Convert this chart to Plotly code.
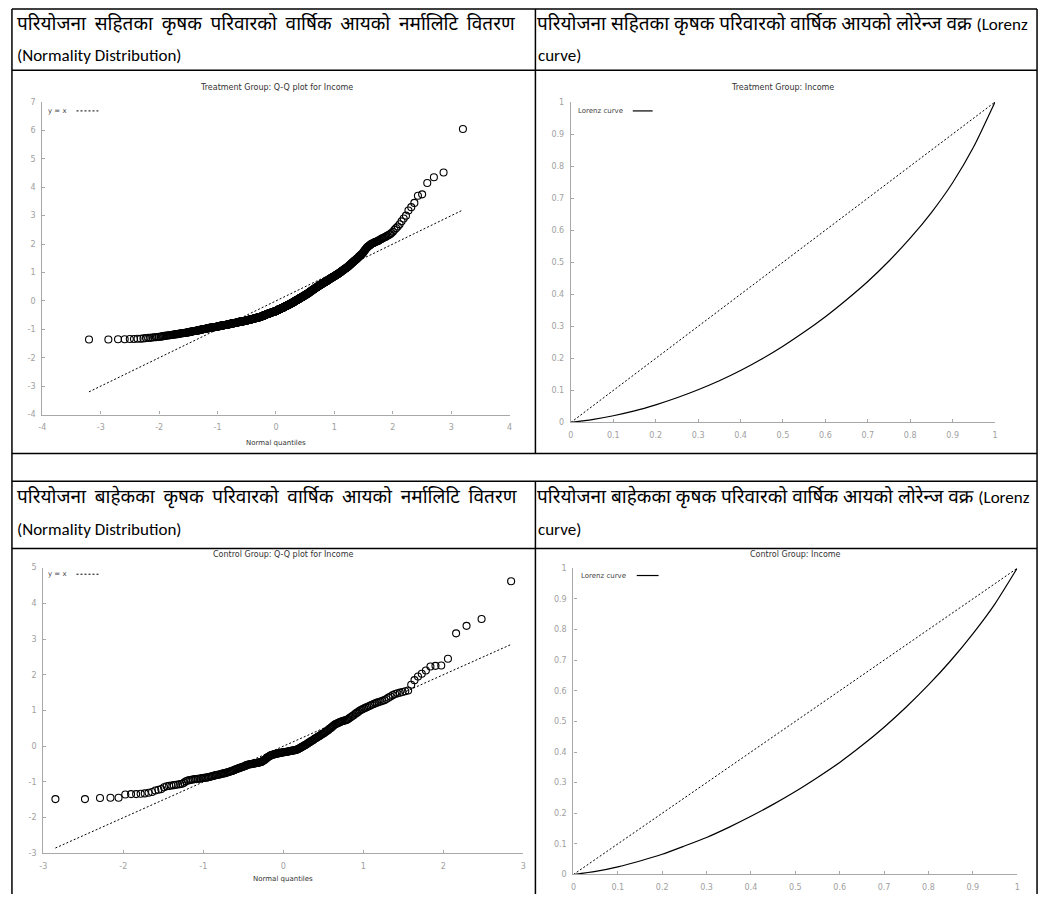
import plotly.graph_objects as go
from statistics import NormalDist

W, H = 1046, 899

# ---------------- data ----------------
# sorted standardized annual income, treatment group (n = 730)
treat_income_z = [
    -1.36, -1.36, -1.35, -1.35, -1.34, -1.34, -1.33, -1.33, -1.32, -1.31,
    -1.30, -1.30, -1.29, -1.28, -1.28, -1.27, -1.26, -1.26, -1.25, -1.24,
    -1.23, -1.23, -1.22, -1.22, -1.21, -1.21, -1.20, -1.19, -1.19, -1.18,
    -1.18, -1.17, -1.17, -1.17, -1.16, -1.16, -1.15, -1.15, -1.14, -1.14,
    -1.14, -1.13, -1.13, -1.12, -1.12, -1.12, -1.11, -1.11, -1.10, -1.10,
    -1.10, -1.09, -1.09, -1.08, -1.08, -1.08, -1.07, -1.07, -1.06, -1.06,
    -1.06, -1.05, -1.05, -1.05, -1.04, -1.04, -1.04, -1.03, -1.03, -1.03,
    -1.02, -1.02, -1.02, -1.01, -1.01, -1.01, -1.00, -1.00, -0.99, -0.99,
    -0.99, -0.99, -0.98, -0.98, -0.98, -0.97, -0.97, -0.97, -0.96, -0.96,
    -0.96, -0.96, -0.95, -0.95, -0.95, -0.95, -0.95, -0.94, -0.94, -0.94,
    -0.94, -0.94, -0.93, -0.93, -0.93, -0.93, -0.93, -0.92, -0.92, -0.92,
    -0.92, -0.91, -0.91, -0.91, -0.90, -0.90, -0.90, -0.90, -0.89, -0.89,
    -0.89, -0.89, -0.89, -0.88, -0.88, -0.88, -0.88, -0.87, -0.87, -0.87,
    -0.87, -0.87, -0.86, -0.86, -0.86, -0.86, -0.86, -0.85, -0.85, -0.85,
    -0.85, -0.85, -0.84, -0.84, -0.84, -0.84, -0.84, -0.83, -0.83, -0.83,
    -0.83, -0.83, -0.82, -0.82, -0.82, -0.82, -0.82, -0.81, -0.81, -0.81,
    -0.81, -0.81, -0.80, -0.80, -0.80, -0.80, -0.80, -0.79, -0.79, -0.79,
    -0.79, -0.79, -0.78, -0.78, -0.78, -0.78, -0.78, -0.77, -0.77, -0.77,
    -0.77, -0.77, -0.76, -0.76, -0.76, -0.76, -0.76, -0.75, -0.75, -0.75,
    -0.75, -0.75, -0.74, -0.74, -0.74, -0.74, -0.74, -0.73, -0.73, -0.73,
    -0.73, -0.73, -0.73, -0.73, -0.73, -0.72, -0.72, -0.72, -0.72, -0.72,
    -0.72, -0.72, -0.71, -0.71, -0.71, -0.71, -0.71, -0.70, -0.70, -0.70,
    -0.70, -0.70, -0.69, -0.69, -0.69, -0.69, -0.69, -0.68, -0.68, -0.68,
    -0.68, -0.68, -0.67, -0.67, -0.67, -0.67, -0.67, -0.66, -0.66, -0.66,
    -0.66, -0.66, -0.65, -0.65, -0.65, -0.65, -0.65, -0.64, -0.64, -0.64,
    -0.64, -0.64, -0.63, -0.63, -0.63, -0.63, -0.63, -0.62, -0.62, -0.62,
    -0.62, -0.62, -0.61, -0.61, -0.61, -0.61, -0.61, -0.60, -0.60, -0.60,
    -0.60, -0.60, -0.59, -0.59, -0.59, -0.59, -0.59, -0.58, -0.58, -0.58,
    -0.58, -0.58, -0.57, -0.57, -0.57, -0.57, -0.57, -0.56, -0.56, -0.56,
    -0.56, -0.55, -0.55, -0.55, -0.55, -0.54, -0.54, -0.54, -0.53, -0.53,
    -0.53, -0.52, -0.52, -0.52, -0.52, -0.51, -0.51, -0.51, -0.50, -0.50,
    -0.50, -0.49, -0.49, -0.49, -0.49, -0.48, -0.48, -0.48, -0.47, -0.47,
    -0.47, -0.46, -0.46, -0.46, -0.46, -0.45, -0.45, -0.45, -0.44, -0.44,
    -0.44, -0.44, -0.44, -0.43, -0.43, -0.43, -0.43, -0.42, -0.42, -0.42,
    -0.42, -0.41, -0.41, -0.41, -0.41, -0.40, -0.40, -0.40, -0.39, -0.39,
    -0.39, -0.39, -0.39, -0.38, -0.38, -0.38, -0.38, -0.37, -0.37, -0.37,
    -0.37, -0.36, -0.36, -0.36, -0.36, -0.35, -0.35, -0.35, -0.34, -0.34,
    -0.34, -0.33, -0.33, -0.33, -0.32, -0.32, -0.31, -0.31, -0.30, -0.30,
    -0.30, -0.30, -0.29, -0.29, -0.29, -0.28, -0.28, -0.28, -0.27, -0.27,
    -0.27, -0.27, -0.26, -0.26, -0.26, -0.25, -0.25, -0.25, -0.24, -0.24,
    -0.24, -0.23, -0.23, -0.22, -0.22, -0.22, -0.21, -0.21, -0.20, -0.20,
    -0.20, -0.19, -0.19, -0.19, -0.18, -0.18, -0.18, -0.17, -0.17, -0.16,
    -0.16, -0.16, -0.15, -0.15, -0.15, -0.14, -0.14, -0.14, -0.13, -0.13,
    -0.13, -0.12, -0.12, -0.11, -0.11, -0.11, -0.10, -0.10, -0.09, -0.09,
    -0.09, -0.08, -0.08, -0.07, -0.07, -0.07, -0.06, -0.06, -0.05, -0.05,
    -0.05, -0.04, -0.04, -0.03, -0.03, -0.02, -0.02, -0.01, -0.01, 0.00,
    0.00, 0.01, 0.01, 0.02, 0.02, 0.02, 0.03, 0.03, 0.04, 0.04,
    0.04, 0.05, 0.05, 0.06, 0.06, 0.07, 0.07, 0.08, 0.08, 0.09,
    0.09, 0.09, 0.10, 0.10, 0.11, 0.11, 0.12, 0.12, 0.13, 0.13,
    0.13, 0.14, 0.14, 0.15, 0.15, 0.16, 0.16, 0.17, 0.17, 0.18,
    0.18, 0.19, 0.19, 0.20, 0.20, 0.21, 0.21, 0.22, 0.22, 0.23,
    0.23, 0.24, 0.24, 0.25, 0.25, 0.26, 0.26, 0.27, 0.27, 0.28,
    0.29, 0.29, 0.30, 0.30, 0.31, 0.32, 0.32, 0.33, 0.33, 0.34,
    0.35, 0.35, 0.36, 0.36, 0.37, 0.38, 0.38, 0.39, 0.39, 0.40,
    0.41, 0.41, 0.42, 0.42, 0.43, 0.44, 0.44, 0.45, 0.45, 0.46,
    0.47, 0.47, 0.48, 0.48, 0.49, 0.50, 0.50, 0.51, 0.51, 0.52,
    0.53, 0.53, 0.54, 0.54, 0.55, 0.56, 0.56, 0.57, 0.57, 0.58,
    0.59, 0.59, 0.60, 0.60, 0.61, 0.62, 0.62, 0.63, 0.63, 0.64,
    0.65, 0.65, 0.66, 0.66, 0.67, 0.68, 0.68, 0.69, 0.69, 0.70,
    0.71, 0.71, 0.72, 0.73, 0.73, 0.74, 0.75, 0.75, 0.76, 0.77,
    0.78, 0.78, 0.79, 0.80, 0.80, 0.81, 0.82, 0.82, 0.83, 0.84,
    0.85, 0.85, 0.86, 0.87, 0.87, 0.88, 0.89, 0.89, 0.90, 0.91,
    0.92, 0.93, 0.93, 0.94, 0.95, 0.96, 0.96, 0.97, 0.98, 0.99,
    1.00, 1.01, 1.02, 1.03, 1.04, 1.05, 1.06, 1.07, 1.08, 1.09,
    1.10, 1.11, 1.12, 1.13, 1.14, 1.15, 1.16, 1.17, 1.18, 1.19,
    1.20, 1.22, 1.23, 1.25, 1.26, 1.27, 1.29, 1.30, 1.32, 1.33,
    1.35, 1.36, 1.38, 1.39, 1.41, 1.42, 1.44, 1.45, 1.47, 1.48,
    1.50, 1.52, 1.54, 1.56, 1.58, 1.59, 1.61, 1.63, 1.65, 1.67,
    1.70, 1.73, 1.76, 1.79, 1.82, 1.85, 1.88, 1.90, 1.92, 1.94,
    1.96, 1.98, 2.00, 2.02, 2.03, 2.04, 2.06, 2.07, 2.08, 2.10,
    2.11, 2.13, 2.15, 2.17, 2.19, 2.21, 2.23, 2.25, 2.27, 2.30,
    2.32, 2.35, 2.39, 2.43, 2.50, 2.56, 2.62, 2.70, 2.80, 2.90,
    3.00, 3.18, 3.30, 3.45, 3.70, 3.75, 4.15, 4.35, 4.52, 6.05,
]

# sorted standardized annual income, control group (n = 228)
control_income_z = [
    -1.48, -1.48, -1.45, -1.44, -1.44, -1.35, -1.34, -1.34, -1.33, -1.32,
    -1.30, -1.28, -1.24, -1.22, -1.20, -1.15, -1.12, -1.11, -1.10, -1.09,
    -1.08, -1.07, -1.06, -1.05, -1.02, -0.98, -0.96, -0.95, -0.94, -0.93,
    -0.92, -0.92, -0.91, -0.91, -0.90, -0.89, -0.89, -0.88, -0.88, -0.87,
    -0.86, -0.85, -0.84, -0.83, -0.82, -0.81, -0.80, -0.80, -0.79, -0.78,
    -0.77, -0.76, -0.76, -0.75, -0.74, -0.73, -0.72, -0.71, -0.70, -0.69,
    -0.68, -0.67, -0.65, -0.64, -0.63, -0.62, -0.61, -0.60, -0.59, -0.58,
    -0.57, -0.56, -0.55, -0.53, -0.52, -0.51, -0.51, -0.50, -0.50, -0.49,
    -0.49, -0.48, -0.48, -0.47, -0.47, -0.46, -0.46, -0.45, -0.45, -0.44,
    -0.42, -0.40, -0.39, -0.37, -0.35, -0.33, -0.31, -0.29, -0.28, -0.26,
    -0.25, -0.24, -0.23, -0.23, -0.22, -0.21, -0.21, -0.20, -0.20, -0.19,
    -0.19, -0.18, -0.18, -0.17, -0.17, -0.17, -0.16, -0.16, -0.15, -0.15,
    -0.14, -0.14, -0.13, -0.13, -0.12, -0.12, -0.11, -0.11, -0.10, -0.10,
    -0.08, -0.07, -0.06, -0.04, -0.03, -0.01, 0.00, 0.02, 0.03, 0.05,
    0.06, 0.08, 0.10, 0.11, 0.13, 0.15, 0.16, 0.18, 0.20, 0.22,
    0.23, 0.25, 0.27, 0.28, 0.30, 0.32, 0.34, 0.35, 0.37, 0.39,
    0.41, 0.43, 0.45, 0.48, 0.50, 0.52, 0.55, 0.57, 0.60, 0.62,
    0.63, 0.65, 0.66, 0.68, 0.69, 0.70, 0.71, 0.72, 0.73, 0.74,
    0.76, 0.79, 0.81, 0.84, 0.86, 0.89, 0.92, 0.94, 0.97, 1.00,
    1.02, 1.04, 1.06, 1.08, 1.10, 1.12, 1.14, 1.16, 1.18, 1.20,
    1.22, 1.24, 1.25, 1.27, 1.29, 1.32, 1.36, 1.39, 1.43, 1.46,
    1.48, 1.50, 1.52, 1.54, 1.56, 1.72, 1.85, 1.95, 2.03, 2.12,
    2.23, 2.25, 2.26, 2.45, 3.16, 3.37, 3.56, 4.62,
]

# Lorenz curves: cumulative share of households vs cumulative share of income
lorenz_pop = [0.0, 0.05, 0.1, 0.15, 0.2, 0.25, 0.3, 0.35, 0.4, 0.45, 0.5,
              0.55, 0.6, 0.65, 0.7, 0.75, 0.8, 0.85, 0.9, 0.95, 1.0]
lorenz_treat_share = [0.0, 0.009, 0.021, 0.036, 0.055, 0.077, 0.102, 0.130, 0.162, 0.198, 0.238,
                      0.282, 0.330, 0.383, 0.440, 0.504, 0.575, 0.655, 0.748, 0.861, 1.0]
lorenz_control_share = [0.0, 0.010, 0.025, 0.044, 0.066, 0.093, 0.121, 0.154, 0.190, 0.229, 0.271,
                        0.317, 0.366, 0.421, 0.481, 0.547, 0.619, 0.698, 0.786, 0.884, 1.0]

# tick values / labels
qq_t_xticks = [-4, -3, -2, -1, 0, 1, 2, 3, 4]
qq_t_xlabels = ["-4", "-3", "-2", "-1", "0", "1", "2", "3", "4"]
qq_t_yticks = [-4, -3, -2, -1, 0, 1, 2, 3, 4, 5, 6, 7]
qq_t_ylabels = ["-4", "-3", "-2", "-1", "0", "1", "2", "3", "4", "5", "6", "7"]
qq_c_xticks = [-3, -2, -1, 0, 1, 2, 3]
qq_c_xlabels = ["-3", "-2", "-1", "0", "1", "2", "3"]
qq_c_yticks = [-3, -2, -1, 0, 1, 2, 3, 4, 5]
qq_c_ylabels = ["-3", "-2", "-1", "0", "1", "2", "3", "4", "5"]
lz_ticks = [0, 0.1, 0.2, 0.3, 0.4, 0.5, 0.6, 0.7, 0.8, 0.9, 1]
lz_labels = ["0", "0.1", "0.2", "0.3", "0.4", "0.5", "0.6", "0.7", "0.8", "0.9", "1"]

# text
header_1_left = ["परियोजना", "सहितका", "कृषक", "परिवारको", "वार्षिक", "आयको", "नर्मालिटि", "वितरण"]
header_1_right = ["परियोजना", "सहितका", "कृषक", "परिवारको", "वार्षिक", "आयको", "लोरेन्ज", "वक्र"]
header_2_left = ["परियोजना", "बाहेकका", "कृषक", "परिवारको", "वार्षिक", "आयको", "नर्मालिटि", "वितरण"]
header_2_right = ["परियोजना", "बाहेकका", "कृषक", "परिवारको", "वार्षिक", "आयको", "लोरेन्ज", "वक्र"]
lorenz_open = "(Lorenz"
normality_line = "(Normality Distribution)"
curve_line = "curve)"
titles = ["Treatment Group: Q-Q plot for Income", "Treatment Group: Income",
          "Control Group: Q-Q plot for Income", "Control Group: Income"]

# ---------------- layout helpers ----------------
def px(x):
    return x / W

def py(y):
    return 1 - y / H

AXC = "#a8a8a8"
TICKFONT = dict(family="DejaVu Sans", size=8, color="#a0a0a0")
TXT = "DejaVu Sans"
DEV = "Noto Sans Devanagari, Lohit Devanagari, Mukta, Noto Sans, sans-serif"
LAT = "Carlito, Lato, Noto Sans, sans-serif"


def axis(x0, x1, rng, tv, tt, anchor, standoff):
    return dict(domain=[x0, x1], range=rng, tickvals=tv, ticktext=tt, anchor=anchor,
                showline=True, linecolor=AXC, linewidth=1.3, ticks="inside", ticklen=3,
                tickwidth=1, tickcolor=AXC, tickfont=TICKFONT, showgrid=False,
                zeroline=False, fixedrange=True, ticklabelstandoff=standoff)


def normal_quantiles(n):
    nd = NormalDist()
    return [nd.inv_cdf((i + 0.5) / n) for i in range(n)]


q_t = normal_quantiles(len(treat_income_z))
q_c = normal_quantiles(len(control_income_z))

fig = go.Figure()

marker = dict(symbol="circle-open", size=7, color="black", line=dict(width=1.1, color="black"))
dotted = dict(color="black", width=1, dash="2px,2px")
solid = dict(color="black", width=1.2, shape="spline", smoothing=0.6)

# chart 1 : treatment Q-Q
fig.add_trace(go.Scatter(x=[q_t[0], q_t[-1]], y=[q_t[0], q_t[-1]], mode="lines",
                         line=dotted, xaxis="x", yaxis="y", hoverinfo="skip"))
fig.add_trace(go.Scatter(x=q_t, y=treat_income_z, mode="markers", marker=marker,
                         xaxis="x", yaxis="y"))
# chart 2 : treatment Lorenz
fig.add_trace(go.Scatter(x=[0, 1], y=[0, 1], mode="lines", line=dotted, xaxis="x2", yaxis="y2"))
fig.add_trace(go.Scatter(x=lorenz_pop, y=lorenz_treat_share, mode="lines", line=solid,
                         xaxis="x2", yaxis="y2"))
# chart 3 : control Q-Q
fig.add_trace(go.Scatter(x=[q_c[0], q_c[-1]], y=[q_c[0], q_c[-1]], mode="lines",
                         line=dotted, xaxis="x3", yaxis="y3", hoverinfo="skip"))
fig.add_trace(go.Scatter(x=q_c, y=control_income_z, mode="markers", marker=marker,
                         xaxis="x3", yaxis="y3"))
# chart 4 : control Lorenz
fig.add_trace(go.Scatter(x=[0, 1], y=[0, 1], mode="lines", line=dotted, xaxis="x4", yaxis="y4"))
fig.add_trace(go.Scatter(x=lorenz_pop, y=lorenz_control_share, mode="lines", line=solid,
                         xaxis="x4", yaxis="y4"))

layout = dict(
    width=W, height=H, margin=dict(l=0, r=0, t=0, b=0), autosize=False,
    paper_bgcolor="white", plot_bgcolor="white", showlegend=False,
    xaxis=axis(px(38.6), px(509), [-4, 4], qq_t_xticks, qq_t_xlabels, "y", 5),
    yaxis=axis(py(414.7), py(99), [-4, 7], qq_t_yticks, qq_t_ylabels, "x", 4),
    xaxis2=axis(px(570.7), px(997.7), [0, 1], lz_ticks, lz_labels, "y2", 5),
    yaxis2=axis(py(422.7), py(99), [0, 1], lz_ticks, lz_labels, "x2", 4),
    xaxis3=axis(px(39.6), px(522.7), [-3, 3], qq_c_xticks, qq_c_xlabels, "y3", 5),
    yaxis3=axis(py(858), py(569.3), [-3, 5], qq_c_yticks, qq_c_ylabels, "x3", 4),
    xaxis4=axis(px(573.3), px(1020), [0, 1], lz_ticks, lz_labels, "y4", 5),
    yaxis4=axis(py(879.3), py(570), [0, 1], lz_ticks, lz_labels, "x4", 4),
)
fig.update_layout(**layout)

ann = []


def text(x, y, s, size, color="black", family=TXT, xanchor="left"):
    ann.append(dict(x=px(x), y=py(y), xref="paper", yref="paper", text=s, showarrow=False,
                    xanchor=xanchor, yanchor="middle", borderpad=0, borderwidth=0,
                    font=dict(family=family, size=size, color=color)))


# header lines: Devanagari words with Latin part in a separate font (via span)
DSZ, LSZ = 19, 17
GAP_L = " \u2009"
GAP_R = " "


def header(words, gap, tail=None):
    s = gap.join(words)
    if tail:
        s += gap + "<span style='font-family:Carlito, Lato, sans-serif; font-size:%dpx'>%s</span>" % (LSZ, tail)
    return s


text(13, 21, header(header_1_left, GAP_L), DSZ, family=DEV)
text(537, 21, header(header_1_right, GAP_R, lorenz_open), DSZ, family=DEV)
text(13, 499, header(header_2_left, GAP_L), DSZ, family=DEV)
text(537, 499, header(header_2_right, GAP_R, lorenz_open), DSZ, family=DEV)
text(13, 52, normality_line, LSZ, family=LAT)
text(538, 52, curve_line, LSZ, family=LAT)
text(13, 531, normality_line, LSZ, family=LAT)
text(538, 531, curve_line, LSZ, family=LAT)

# chart titles
text(274, 84.3, titles[0], 8, "#333333", xanchor="center")
text(784, 84.3, titles[1], 8, "#333333", xanchor="center")
text(281, 556, titles[2], 8, "#333333", xanchor="center")
text(797, 556, titles[3], 8, "#333333", xanchor="center")
text(274, 443, "Normal quantiles", 7, "#333333", xanchor="center")
text(281, 884, "Normal quantiles", 7, "#333333", xanchor="center")

# legends
text(44, 108, "y = x", 7, "#444444")
text(44, 576, "y = x", 7, "#444444")
text(578, 108, "Lorenz curve", 7, "#444444")
text(581, 577.3, "Lorenz curve", 7, "#444444")

shapes = []


def hline(x0, x1, y, **kw):
    shapes.append(dict(type="line", xref="paper", yref="paper", x0=px(x0), x1=px(x1),
                       y0=py(y), y1=py(y), **kw))


def vline(x, y0, y1, **kw):
    shapes.append(dict(type="line", xref="paper", yref="paper", x0=px(x), x1=px(x),
                       y0=py(y0), y1=py(y1), **kw))


border = dict(line=dict(color="black", width=1.5))
hline(8, 1040, 5, **border)
hline(8, 1040, 67, **border)
hline(8, 1040, 454, **border)
hline(8, 1040, 482, **border)
hline(8, 1040, 550, **border)
vline(8, 5, 899, **border)
vline(1040, 5, 899, **border)
vline(535, 5, 454, **border)
vline(535, 482, 899, **border)

# legend samples
hline(73, 95, 108, line=dict(color="black", width=1, dash="2px,2px"))
hline(73, 96, 576, line=dict(color="black", width=1, dash="2px,2px"))
hline(633, 653, 108, line=dict(color="black", width=1.2))
hline(637, 659, 577.3, line=dict(color="black", width=1.2))

fig.update_layout(annotations=ann, shapes=shapes)

fig.write_html("out.html", config={"displayModeBar": False},
               post_script="document.body.style.margin='0px';")
